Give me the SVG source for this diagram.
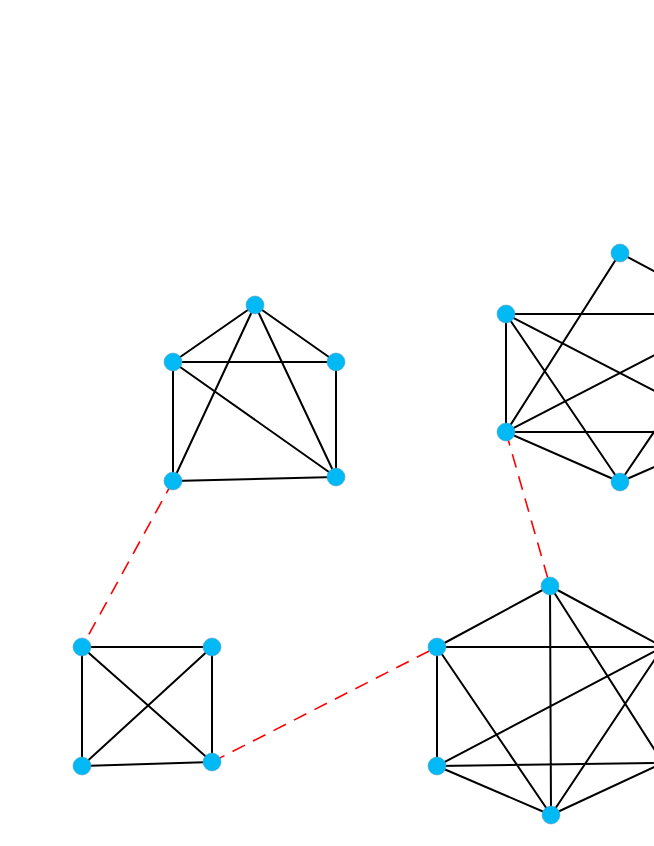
<svg xmlns="http://www.w3.org/2000/svg" width="654" height="846" viewBox="0 0 654 846">
<style>
.e{stroke:#000;stroke-width:2;fill:none}
.d{stroke:#ff0000;stroke-width:1.6;stroke-dasharray:14,9;fill:none}
.n{fill:#00b9f5;stroke:#5a9fc0;stroke-width:0.6}
</style>
<rect width="654" height="846" fill="#fff"/>
<g id="connectors">
<!-- pentagon -->
<path class="e" d="M255,305L173,362M255,305L336,362M255,305L173,481M255,305L336,477M173,362L336,362M173,362L173,481M173,362L336,477M336,362L336,477M173,481L336,477"/>
<!-- square -->
<path class="e" d="M82,647L212,647M82,647L82,766M82,647L212,762M212,647L82,766M212,647L212,762M82,766L212,762"/>
<!-- top-right hexagon -->
<path class="e" d="M620,253L506,432M620,253L734,314M506,314L506,432M506,314L734,314M506,314L734,432M506,314L620,482M506,432L734,314M506,432L734,432M506,432L620,482M620,482L734,314M620,482L734,432M734,314L734,432"/>
<!-- bottom-right hexagon -->
<path class="e" d="M550,586L437,647M550,586L551,815M550,586L663,647M550,586L663,763M437,647L663,647M437,647L437,766M437,647L551,815M437,766L663,647M437,766L663,763M437,766L551,815M551,815L663,647M551,815L663,763M663,647L663,763"/>
<!-- dashed links -->
<path class="d" d="M173,481L82,647"/>
<path class="d" d="M212,762L437,647"/>
<path class="d" d="M506,432L550,586"/>
</g>
<g id="n1"><circle class="n" cx="255" cy="305" r="9"/></g>
<g id="n2"><circle class="n" cx="173" cy="362" r="9"/></g>
<g id="n3"><circle class="n" cx="336" cy="362" r="9"/></g>
<g id="n4"><circle class="n" cx="173" cy="481" r="9"/></g>
<g id="n5"><circle class="n" cx="336" cy="477" r="9"/></g>
<g id="n6"><circle class="n" cx="82" cy="647" r="9"/></g>
<g id="n7"><circle class="n" cx="212" cy="647" r="9"/></g>
<g id="n8"><circle class="n" cx="82" cy="766" r="9"/></g>
<g id="n9"><circle class="n" cx="212" cy="762" r="9"/></g>
<g id="n10"><circle class="n" cx="620" cy="253" r="9"/></g>
<g id="n11"><circle class="n" cx="506" cy="314" r="9"/></g>
<g id="n12"><circle class="n" cx="506" cy="432" r="9"/></g>
<g id="n13"><circle class="n" cx="620" cy="482" r="9"/></g>
<g id="n14"><circle class="n" cx="734" cy="314" r="9"/></g>
<g id="n15"><circle class="n" cx="734" cy="432" r="9"/></g>
<g id="n16"><circle class="n" cx="550" cy="586" r="9"/></g>
<g id="n17"><circle class="n" cx="437" cy="647" r="9"/></g>
<g id="n18"><circle class="n" cx="437" cy="766" r="9"/></g>
<g id="n19"><circle class="n" cx="551" cy="815" r="9"/></g>
<g id="n20"><circle class="n" cx="663" cy="647" r="9"/></g>
<g id="n21"><circle class="n" cx="663" cy="763" r="9"/></g>
</svg>
